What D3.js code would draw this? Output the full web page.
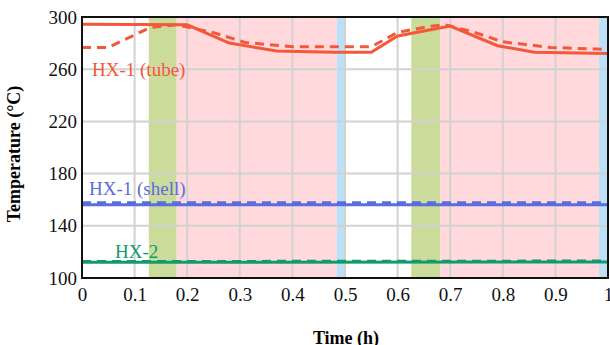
<!DOCTYPE html>
<html><head><meta charset="utf-8">
<script src="https://cdn.jsdelivr.net/npm/d3@7"></script>
<style>
html,body{margin:0;padding:0;background:#fff;overflow:hidden}
svg{display:block}
text{font-family:"Liberation Serif","Times New Roman",serif}
</style></head>
<body>
<svg id="chart" width="610" height="345"></svg>
<script>
// ---- data ----
const xTicks = [0,0.1,0.2,0.3,0.4,0.5,0.6,0.7,0.8,0.9,1];
const xTickLabels = ["0","0.1","0.2","0.3","0.4","0.5","0.6","0.7","0.8","0.9","1"];
const yTicks = [100,140,180,220,260,300];

const bandStart = [0.127,0.180,0.484,0.626,0.681,0.983];
const bandEnd   = [0.180,0.484,0.501,0.681,0.983,1.000];
const bandType  = ["green","pink","blue","green","pink","blue"];

const tubeSolidT = [0,0.2,0.28,0.37,0.48,0.55,0.60,0.66,0.70,0.79,0.86,1.0];
const tubeSolidV = [294.5,294,280,274,273,273,285.5,290,293,278,273,272];
const tubeDashT  = [0,0.05,0.13,0.18,0.25,0.31,0.40,0.55,0.60,0.66,0.69,0.74,0.80,0.89,0.98,1.0];
const tubeDashV  = [276.7,276.7,292,294,288,280.5,277.2,277.2,288.2,292.8,294,289,281,276.7,275.4,275];
const shellSolidT = [0,1];
const shellSolidV = [156.2,156.2];
const shellDashT  = [0,1];
const shellDashV  = [157.6,157.6];
const hx2SolidT = [0,1];
const hx2SolidV = [112,112.3];
const hx2DashT  = [0,1];
const hx2DashV  = [112.6,113];

const seriesNames = ["HX-1 (tube)","HX-1 (shell)","HX-2"];

// ---- layout ----
const L=82, R=608, T=17, B=278;
const x = d3.scaleLinear().domain([0,1]).range([L,R]);
const y = d3.scaleLinear().domain([100,300]).range([B,T]);
const svg = d3.select("#chart");
const bandColor = {green:"#cbdb99", pink:"#ffd9dc", blue:"#bde0f7"};
const red="#f4583a", blue="#5a6de0", green="#129a6e";

// bands
svg.append("g").selectAll("rect").data(bandStart.map((s,i)=>({s,e:bandEnd[i],t:bandType[i]})))
  .join("rect")
  .attr("x",d=>x(d.s)).attr("width",d=>x(d.e)-x(d.s))
  .attr("y",T).attr("height",B-T)
  .attr("fill",d=>bandColor[d.t]);

// grid
const grid = svg.append("g").attr("stroke","#d2d2d2").attr("stroke-width",2);
grid.selectAll(".vx").data(xTicks.slice(1,-1)).join("line")
  .attr("x1",d=>x(d)).attr("x2",d=>x(d)).attr("y1",T).attr("y2",B);
grid.selectAll(".hy").data(yTicks.slice(1,-1)).join("line")
  .attr("y1",d=>y(d)).attr("y2",d=>y(d)).attr("x1",L).attr("x2",R);

// lines
const line = d3.line().x(d=>x(d[0])).y(d=>y(d[1]));
function draw(ts,vs,color,dash){
  svg.append("path").datum(ts.map((t,i)=>[t,vs[i]]))
    .attr("d",line).attr("fill","none").attr("stroke",color)
    .attr("stroke-width",3).attr("stroke-dasharray",dash?"9,6":null);
}
draw(tubeDashT,tubeDashV,red,true);
draw(tubeSolidT,tubeSolidV,red,false);
draw(shellDashT,shellDashV,blue,true);
draw(shellSolidT,shellSolidV,blue,false);
draw(hx2DashT,hx2DashV,green,true);
draw(hx2SolidT,hx2SolidV,green,false);

// frame
svg.append("rect").attr("x",L).attr("y",T).attr("width",R-L).attr("height",B-T)
  .attr("fill","none").attr("stroke","#111").attr("stroke-width",2);

// axes
const yAxis = d3.axisLeft(y).tickValues(yTicks).tickSize(0).tickPadding(5);
const gy = svg.append("g").attr("transform",`translate(${L},0)`).call(yAxis);
gy.select(".domain").remove();
gy.selectAll("text").attr("font-size",19).attr("fill","#111")
  .style("font-family","'Liberation Serif',serif");
const xAxis = d3.axisBottom(x).tickValues(xTicks).tickFormat((d,i)=>xTickLabels[i]).tickSize(0).tickPadding(10);
const gx = svg.append("g").attr("transform",`translate(0,${B})`).call(xAxis);
gx.select(".domain").remove();
gx.selectAll("text").attr("font-size",19).attr("fill","#111")
  .style("font-family","'Liberation Serif',serif");

// series labels
const lab = [[seriesNames[0],92,76,red],[seriesNames[1],89,195,blue],[seriesNames[2],115,258,green]];
svg.append("g").selectAll("text").data(lab).join("text")
  .attr("x",d=>d[1]).attr("y",d=>d[2]).attr("fill",d=>d[3]).attr("font-size",19)
  .text(d=>d[0]);

// axis titles
svg.append("text").attr("transform","translate(20,154) rotate(-90)")
  .attr("text-anchor","middle").attr("font-weight","bold").attr("font-size",18)
  .text("Temperature (°C)");
svg.append("text").attr("x",346).attr("y",344).attr("text-anchor","middle")
  .attr("font-weight","bold").attr("font-size",18).text("Time (h)");
</script>
</body></html>
